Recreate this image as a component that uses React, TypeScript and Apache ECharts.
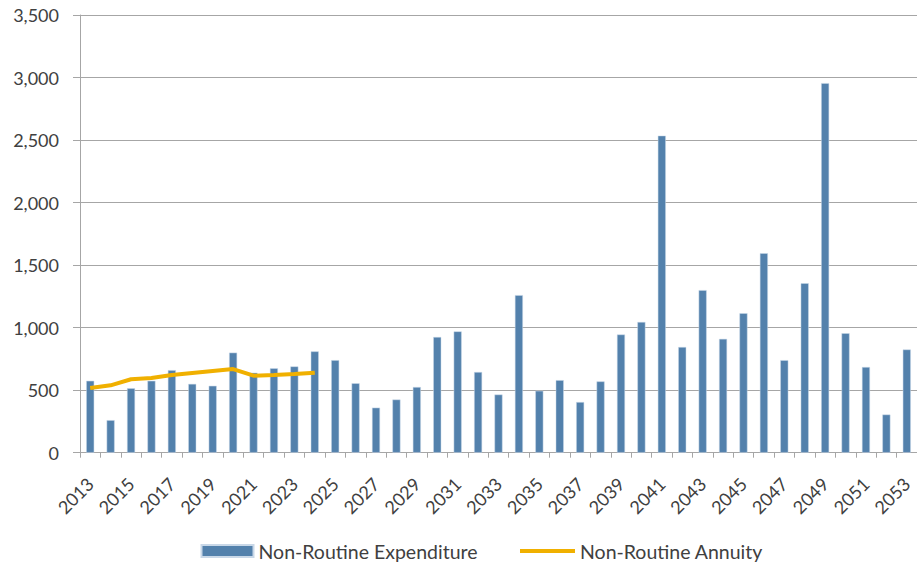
import React, { useEffect, useRef } from "react";
import * as echarts from "echarts";

const years: string[] = [];
for (let y = 2013; y <= 2053; y++) years.push(String(y));

const expenditure = [
  575, 260, 515, 575, 660, 550, 535, 800, 640, 675, 690, 810, 740, 555,
  360, 425, 525, 925, 970, 645, 465, 1260, 495, 580, 405, 570, 945, 1045,
  2535, 845, 1300, 910, 1115, 1595, 740, 1355, 2955, 955, 685, 305, 825,
];

const annuity = [517, 539, 587, 597, 621, 637, 653, 669, 616, 621, 629, 640];

const yTicks = { min: 0, max: 3500, interval: 500 };

const FONT = "Lato";

export default function App() {
  const ref = useRef<HTMLDivElement>(null);
  useEffect(() => {
    if (!ref.current) return;
    const chart = echarts.init(ref.current, undefined, { renderer: "svg" });
    chart.setOption({
      animation: false,
      backgroundColor: "#ffffff",
      textStyle: { fontFamily: FONT },
      grid: { left: 80, top: 15, right: -8.3, bottom: 111.3, containLabel: false },
      legend: [
        {
          data: ["Non-Routine Expenditure"],
          left: 200.5,
          top: 541,
          padding: 0,
          icon: "rect",
          itemWidth: 52,
          itemHeight: 12,
          itemGap: 5,
          textStyle: { fontFamily: FONT, fontSize: 19.5, color: "#404040", padding: [0, 0, 0, 0] },
        },
        {
          data: ["Non-Routine Annuity"],
          left: 520,
          top: 541,
          padding: 0,
          icon: "rect",
          itemWidth: 55,
          itemHeight: 4,
          textStyle: { fontFamily: FONT, fontSize: 19.5, color: "#404040" },
        },
      ],
      xAxis: {
        type: "category",
        data: years,
        boundaryGap: true,
        axisLine: { show: true, lineStyle: { color: "#a6a6a6", width: 1 } },
        axisTick: { show: true, interval: 0, length: 5, lineStyle: { color: "#a6a6a6" } },
        axisLabel: {
          interval: 1,
          rotate: 45,
          margin: 28,
          fontFamily: FONT,
          fontSize: 18,
          color: "#404040",
        },
        splitLine: { show: false },
      },
      yAxis: {
        type: "value",
        min: yTicks.min,
        max: yTicks.max,
        interval: yTicks.interval,
        axisLine: { show: true, lineStyle: { color: "#a6a6a6", width: 1 } },
        axisTick: { show: true, length: 7, lineStyle: { color: "#a6a6a6" } },
        axisLabel: {
          margin: 21,
          fontFamily: FONT,
          fontSize: 18,
          color: "#404040",
          formatter: (v: number) => v.toLocaleString("en-US"),
        },
        splitLine: { show: true, lineStyle: { color: "#a6a6a6", width: 1 } },
      },
      series: [
        {
          name: "Non-Routine Expenditure",
          type: "bar",
          data: expenditure,
          barWidth: 8,
          itemStyle: { color: "#5381AC", borderColor: "#c9d8e8", borderWidth: 0.5 },
        },
        {
          name: "Non-Routine Annuity",
          type: "line",
          data: annuity,
          showSymbol: false,
          symbol: "none",
          lineStyle: { color: "#F0B000", width: 4 },
          itemStyle: { color: "#F0B000" },
        },
      ],
    });
    return () => chart.dispose();
  }, []);
  return (
    <div
      ref={ref}
      style={{ position: "fixed", left: 0, top: 0, width: 917, height: 564, overflow: "hidden" }}
    />
  );
}
